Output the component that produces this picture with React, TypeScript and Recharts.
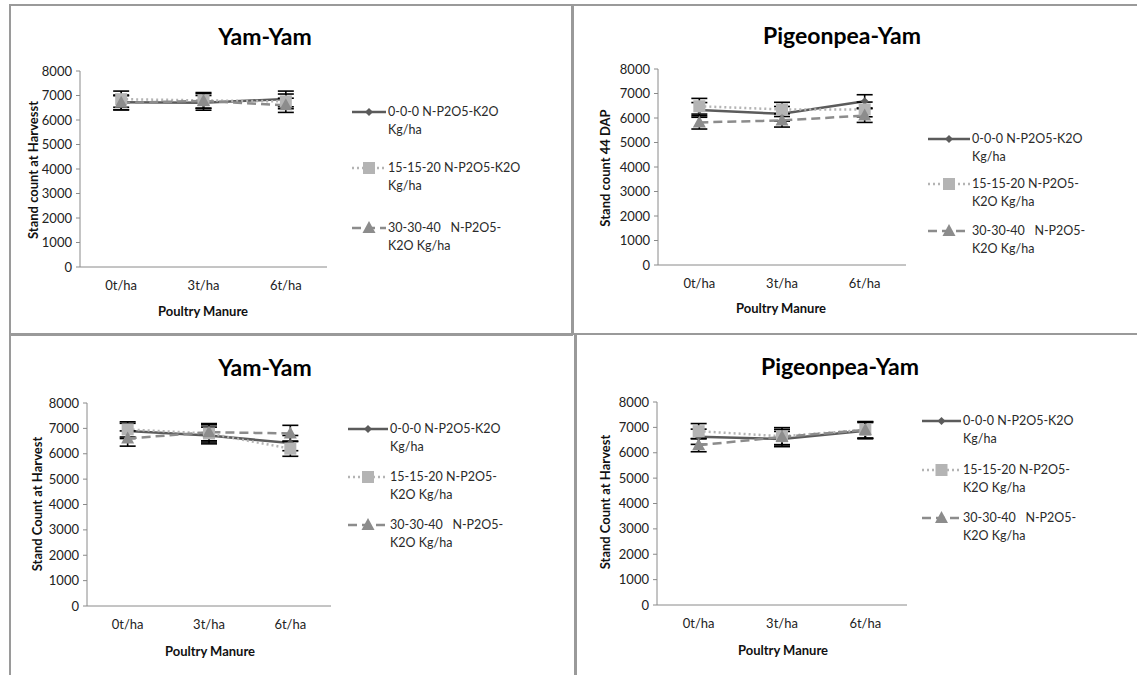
import React from "react";
import { LineChart, Line, XAxis, YAxis, ErrorBar } from "recharts";

const categories = ["0t/ha", "3t/ha", "6t/ha"];
const yTicks = [0, 1000, 2000, 3000, 4000, 5000, 6000, 7000, 8000];

const seriesNames = [
  ["0-0-0 N-P2O5-K2O", "Kg/ha"],
  ["15-15-20 N-P2O5-K2O", "Kg/ha"],
  ["30-30-40   N-P2O5-", "K2O Kg/ha"],
];
const seriesNamesAlt = [
  ["0-0-0 N-P2O5-K2O", "Kg/ha"],
  ["15-15-20 N-P2O5-", "K2O Kg/ha"],
  ["30-30-40   N-P2O5-", "K2O Kg/ha"],
];

// top left: Yam-Yam, stand count at harvest
const tlZero = [6720, 6700, 6860];
const tlMid = [6850, 6800, 6760];
const tlHigh = [6700, 6780, 6600];
const tlZeroErr = [300, 300, 320];
const tlMidErr = [330, 320, 300];
const tlHighErr = [290, 300, 290];

// top right: Pigeonpea-Yam, stand count 44 DAP
const trZero = [6330, 6170, 6680];
const trMid = [6480, 6350, 6350];
const trHigh = [5820, 5900, 6100];
const trZeroErr = [300, 300, 270];
const trMidErr = [320, 290, 300];
const trHighErr = [270, 270, 280];

// bottom left: Yam-Yam, stand count at harvest
const blZero = [6900, 6720, 6420];
const blMid = [6960, 6800, 6200];
const blHigh = [6600, 6850, 6800];
const blZeroErr = [300, 330, 300];
const blMidErr = [300, 340, 300];
const blHighErr = [300, 340, 320];

// bottom right: Pigeonpea-Yam, stand count at harvest
const brZero = [6630, 6540, 6870];
const brMid = [6850, 6650, 6900];
const brHigh = [6300, 6620, 6900];
const brZeroErr = [300, 300, 320];
const brMidErr = [300, 340, 320];
const brHighErr = [260, 300, 330];

const font = "Lato, 'Open Sans', sans-serif";
const c1 = "#5b5b5b";
const c2 = "#b4b4b4";
const c3 = "#8c8c8c";

const Diamond = ({ cx, cy, color = c1 }: any) => (
  <polygon
    points={`${cx},${cy - 4} ${cx + 4},${cy} ${cx},${cy + 4} ${cx - 4},${cy}`}
    fill={color}
  />
);
const Square = ({ cx, cy, color = c2 }: any) => (
  <rect x={cx - 6} y={cy - 6} width={12} height={12} fill={color} />
);
const Triangle = ({ cx, cy, color = c3 }: any) => (
  <polygon
    points={`${cx},${cy - 7} ${cx + 6.5},${cy + 5} ${cx - 6.5},${cy + 5}`}
    fill={color}
  />
);

type Geo = {
  x: number; y: number; w: number; h: number;
  px0: number; px1: number; py0: number; py1: number;
  titleX: number; titleY: number;
  yLabX: number; yLabY: number;
  xLabX: number; xLabY: number;
  legX: number; legTextX: number; legY: number[];
};

function Panel({ geo, title, yLabel, values, errors, names }: any) {
  const g: Geo = geo;
  const data = categories.map((c, i) => ({
    cat: c,
    a: values[0][i], ae: errors[0][i],
    b: values[1][i], be: errors[1][i],
    c: values[2][i], ce: errors[2][i],
  }));
  const yW = 50;
  const xH = 30;
  const margin = {
    top: g.py0 - g.y,
    left: g.px0 - g.x - yW,
    right: g.w - (g.px1 - g.x),
    bottom: g.h - (g.py1 - g.y) - xH,
  };
  const band = (g.px1 - g.px0) / 6;
  const err = (k: string) => (
    <ErrorBar dataKey={k} width={8} stroke="#000" strokeWidth={1.6} direction="y" />
  );
  const markers = [Diamond, Square, Triangle];
  const strokes = [
    { stroke: c1, dash: undefined },
    { stroke: c2, dash: "2 3" },
    { stroke: c3, dash: "9 5" },
  ];
  return (
    <div style={{ position: "absolute", left: g.x, top: g.y, width: g.w, height: g.h }}>
      <LineChart width={g.w} height={g.h} data={data} margin={margin}>
        <XAxis
          dataKey="cat"
          height={xH}
          interval={0}
          tickLine={false}
          axisLine={{ stroke: "#8a8a8a" }}
          padding={{ left: band, right: band }}
          tick={{ fontSize: 13, fill: "#222", fontFamily: font }}
          tickMargin={8}
        />
        <YAxis
          width={yW}
          domain={[0, 8000]}
          ticks={yTicks}
          interval={0}
          tickSize={4}
          tickMargin={4}
          tickLine={{ stroke: "#8a8a8a" }}
          axisLine={{ stroke: "#8a8a8a" }}
          tick={{ fontSize: 13, fill: "#222", fontFamily: font }}
        />
        <Line
          dataKey="a"
          stroke={c1}
          strokeWidth={2.5}
          isAnimationActive={false}
          dot={(p: any) => <Diamond key={"a" + p.index} cx={p.cx} cy={p.cy} />}
        >
          {err("ae")}
        </Line>
        <Line
          dataKey="b"
          stroke={c2}
          strokeWidth={2.5}
          strokeDasharray="2 3"
          isAnimationActive={false}
          dot={(p: any) => <Square key={"b" + p.index} cx={p.cx} cy={p.cy} />}
        >
          {err("be")}
        </Line>
        <Line
          dataKey="c"
          stroke={c3}
          strokeWidth={2.5}
          strokeDasharray="9 5"
          isAnimationActive={false}
          dot={(p: any) => <Triangle key={"c" + p.index} cx={p.cx} cy={p.cy} />}
        >
          {err("ce")}
        </Line>
      </LineChart>
      <div
        style={{
          position: "absolute", left: g.titleX - g.x - 150, top: g.titleY - g.y - 15,
          width: 300, textAlign: "center", fontFamily: font, fontWeight: 700,
          fontSize: 23, lineHeight: "30px", color: "#000",
        }}
      >
        {title}
      </div>
      <div
        style={{
          position: "absolute", left: g.yLabX - g.x, top: g.yLabY - g.y, width: 220,
          textAlign: "center", fontFamily: font, fontWeight: 700, fontSize: 13,
          lineHeight: "16px", color: "#111", whiteSpace: "nowrap",
          transform: "translate(-50%, -50%) rotate(-90deg)",
        }}
      >
        {yLabel}
      </div>
      <div
        style={{
          position: "absolute", left: g.xLabX - g.x - 100, top: g.xLabY - g.y - 8, width: 200,
          textAlign: "center", fontFamily: font, fontWeight: 700, fontSize: 13,
          lineHeight: "16px", color: "#111",
        }}
      >
        Poultry Manure
      </div>
      {names.map((lines: string[], i: number) => {
        const M = markers[i];
        const lw = g.legTextX - g.legX - 2;
        return (
          <div key={i} style={{ position: "absolute", left: g.legX - g.x, top: g.legY[i] - g.y - 9 }}>
            <svg width={lw} height={18} style={{ position: "absolute", left: 0, top: 0 }}>
              <line
                x1={0} y1={9} x2={lw} y2={9}
                stroke={strokes[i].stroke} strokeWidth={2.5}
                strokeDasharray={strokes[i].dash}
              />
              <M cx={lw / 2} cy={9} />
            </svg>
            <div
              style={{
                position: "absolute", left: g.legTextX - g.legX, top: 0,
                fontFamily: font, fontSize: 12.5, lineHeight: "18px", color: "#2a2a2a",
                whiteSpace: "pre",
              }}
            >
              {lines[0]}
              <br />
              {lines[1]}
            </div>
          </div>
        );
      })}
    </div>
  );
}

const tlGeo: Geo = {
  x: 10, y: 5, w: 562, h: 330, px0: 80, px1: 327, py0: 71, py1: 267,
  titleX: 265, titleY: 36, yLabX: 33, yLabY: 170, xLabX: 203, xLabY: 311,
  legX: 352, legTextX: 388, legY: [112, 168, 228],
};
const trGeo: Geo = {
  x: 573, y: 5, w: 564, h: 329, px0: 658, px1: 906, py0: 69, py1: 265,
  titleX: 842, titleY: 35, yLabX: 605, yLabY: 168, xLabX: 781, xLabY: 308,
  legX: 928, legTextX: 972, legY: [139, 184, 231],
};
const blGeo: Geo = {
  x: 10, y: 335, w: 565, h: 340, px0: 87, px1: 331, py0: 403, py1: 606,
  titleX: 265, titleY: 367, yLabX: 37, yLabY: 504, xLabX: 210, xLabY: 651,
  legX: 348, legTextX: 390, legY: [429, 477, 525],
};
const brGeo: Geo = {
  x: 576, y: 335, w: 561, h: 340, px0: 657, px1: 907, py0: 402, py1: 605,
  titleX: 840, titleY: 366, yLabX: 605, yLabY: 502, xLabX: 783, xLabY: 650,
  legX: 922, legTextX: 963, legY: [421, 470, 518],
};

const border = "2px solid #9a9a9a";

export default function App() {
  return (
    <div style={{ position: "absolute", left: 0, top: 0, width: 1137, height: 675, background: "#fff", overflow: "hidden" }}>
      <div style={{ position: "absolute", left: 9, top: 4, width: 564, height: 332, border, boxSizing: "border-box" }} />
      <div style={{ position: "absolute", left: 572, top: 4, width: 580, height: 331, border, boxSizing: "border-box" }} />
      <div style={{ position: "absolute", left: 9, top: 333, width: 567, height: 360, border, boxSizing: "border-box" }} />
      <div style={{ position: "absolute", left: 575, top: 333, width: 580, height: 360, border, boxSizing: "border-box" }} />
      <Panel
        geo={tlGeo}
        title="Yam-Yam"
        yLabel="Stand count  at Harvesst"
        values={[tlZero, tlMid, tlHigh]}
        errors={[tlZeroErr, tlMidErr, tlHighErr]}
        names={seriesNames}
      />
      <Panel
        geo={trGeo}
        title="Pigeonpea-Yam"
        yLabel="Stand count  44 DAP"
        values={[trZero, trMid, trHigh]}
        errors={[trZeroErr, trMidErr, trHighErr]}
        names={seriesNamesAlt}
      />
      <Panel
        geo={blGeo}
        title="Yam-Yam"
        yLabel="Stand Count  at Harvest"
        values={[blZero, blMid, blHigh]}
        errors={[blZeroErr, blMidErr, blHighErr]}
        names={seriesNamesAlt}
      />
      <Panel
        geo={brGeo}
        title="Pigeonpea-Yam"
        yLabel="Stand Count at Harvest"
        values={[brZero, brMid, brHigh]}
        errors={[brZeroErr, brMidErr, brHighErr]}
        names={seriesNamesAlt}
      />
    </div>
  );
}
